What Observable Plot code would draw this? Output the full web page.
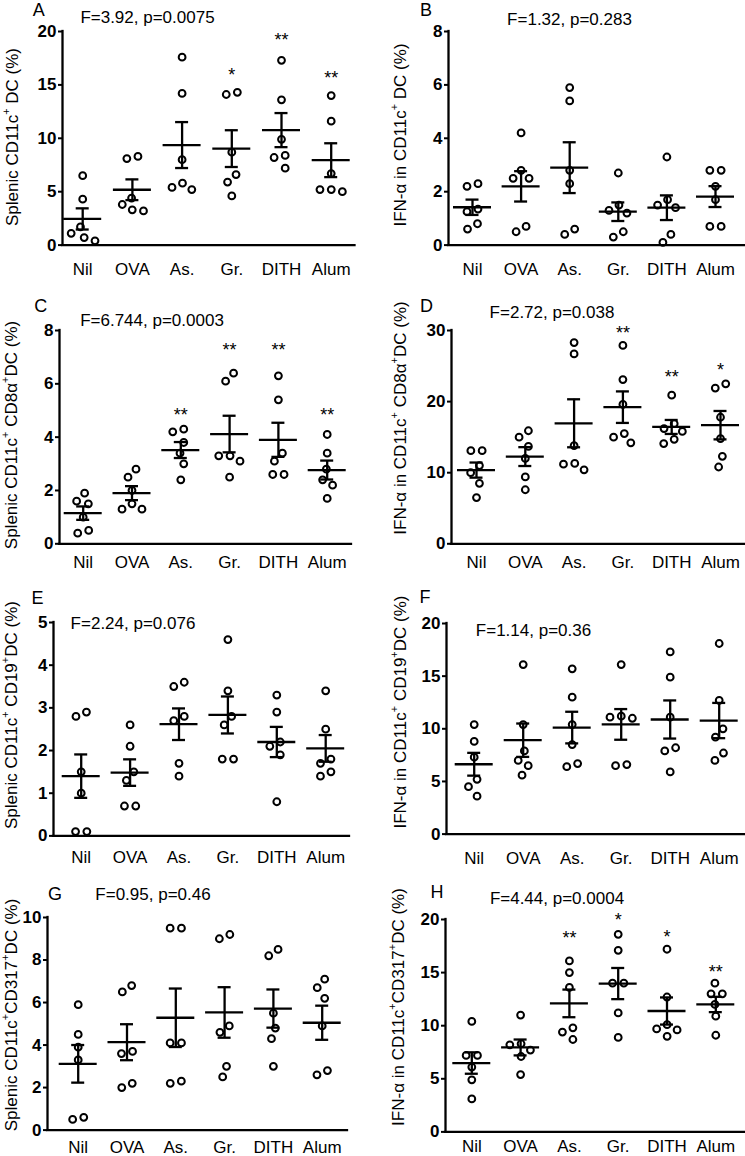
<!DOCTYPE html>
<html><head><meta charset="utf-8">
<script src="https://cdn.jsdelivr.net/npm/d3@7"></script>
<script src="https://cdn.jsdelivr.net/npm/@observablehq/plot@0.6"></script>
<style>
html,body{margin:0;padding:0;background:#fff;}
#fig{position:relative;width:745px;height:1156px;overflow:hidden;background:#fff;font-family:"Liberation Sans",Arial,sans-serif;}
</style></head><body><div id="fig"></div>
<script>
// ---------- DATA ----------
const groups = ["Nil","OVA","As.","Gr.","DITH","Alum"];

const valuesA = [[6.5,4.3,1.7,1.1,0.4,0.7],[8.1,8.3,4.4,3.8,3.2,3.3],[17.6,14.2,8.0,5.8,5.2,5.4],[14.3,14.1,8.7,6.6,5.9,4.6],[17.3,13.6,9.9,8.4,8.2,7.2],[14.0,11.6,6.7,5.2,5.0,5.2]];
const valuesB = [[2.2,2.3,1.35,1.25,0.6,0.8],[4.2,2.5,2.5,2.8,0.5,0.7],[5.9,5.4,2.8,2.3,0.4,0.6],[2.7,1.5,1.3,1.2,0.5,0.3],[3.3,1.5,1.7,1.4,0.4,0.1],[2.8,2.8,2.2,1.7,0.7,0.7]];
const valuesC = [[1.9,1.5,1.6,1.0,0.4,0.5],[2.8,2.5,2.0,1.5,1.3,1.3],[4.3,4.2,3.8,3.4,3.0,2.4],[6.4,6.1,3.3,3.3,3.1,2.5],[6.3,5.4,3.4,3.1,2.6,2.6],[4.1,3.4,2.8,2.4,2.2,1.7]];
const valuesD = [[13.1,13.1,11.0,10.0,8.5,6.5],[15.9,15.0,13.7,12.0,9.4,7.6],[28.3,26.7,13.8,11.3,11.2,10.4],[27.9,23.1,19.6,15.5,15.0,14.2],[20.9,16.2,16.9,15.8,14.1,14.7],[22.5,21.9,17.8,14.8,12.3,10.8]];
const valuesE = [[2.9,2.8,1.5,1.0,0.1,0.1],[2.6,2.1,1.5,1.3,0.7,0.7],[3.6,3.5,2.7,2.8,1.7,1.4],[4.6,3.4,2.8,2.6,1.8,1.8],[3.3,2.9,2.2,2.1,1.9,0.8],[3.4,2.5,1.8,1.7,1.4,1.5]];
const valuesF = [[10.4,8.8,7.3,5.2,4.5,3.6],[16.1,10.4,7.9,7.0,6.5,5.6],[15.7,13.0,10.4,8.5,6.4,6.7],[16.1,11.1,11.0,11.2,6.5,6.6],[17.3,14.9,11.1,8.2,7.9,5.9],[18.1,12.7,10.0,9.2,7.0,7.7]];
const valuesG = [[5.9,4.5,3.9,3.3,0.5,0.6],[6.5,6.8,3.7,3.6,2.0,2.2],[9.5,9.5,4.1,4.1,2.2,2.3],[9.0,9.2,4.9,4.6,2.5,3.0],[8.5,8.2,5.5,4.8,4.3,3.0],[7.1,6.7,6.2,4.9,2.6,2.8]];
const valuesH = [[10.4,7.2,7.2,6.1,4.9,3.1],[11.0,7.7,8.3,7.1,5.4,8.2],[16.1,15.0,13.6,9.8,9.4,8.7],[18.6,17.1,14.0,14.0,11.2,8.9],[17.2,12.7,10.1,9.7,9.0,9.6],[14.0,13.0,13.0,12.0,10.9,9.1]];

const ticksA = [0,5,10,15,20];
const ticksB = [0,2,4,6,8];
const ticksC = [0,2,4,6,8];
const ticksD = [0,10,20,30];
const ticksE = [0,1,2,3,4,5];
const ticksF = [0,5,10,15,20];
const ticksG = [0,2,4,6,8,10];
const ticksH = [0,5,10,15,20];

const starsA = [{group:"Gr.",mark:"*",level:16.3},{group:"DITH",mark:"**",level:19.6},{group:"Alum",mark:"**",level:16.0}];
const starsB = [];
const starsC = [{group:"As.",mark:"**",level:5.0},{group:"Gr.",mark:"**",level:7.44},{group:"DITH",mark:"**",level:7.44},{group:"Alum",mark:"**",level:5.0}];
const starsD = [{group:"Gr.",mark:"**",level:30.2},{group:"DITH",mark:"**",level:24.1},{group:"Alum",mark:"*",level:25.1}];
const starsE = [];
const starsF = [];
const starsG = [];
const starsH = [{group:"As.",mark:"**",level:18.7},{group:"Gr.",mark:"*",level:20.4},{group:"DITH",mark:"*",level:18.8},{group:"Alum",mark:"**",level:15.5}];

const statsA = "F=3.92, p=0.0075";
const statsB = "F=1.32, p=0.283";
const statsC = "F=6.744, p=0.0003";
const statsD = "F=2.72, p=0.038";
const statsE = "F=2.24, p=0.076";
const statsF = "F=1.14, p=0.36";
const statsG = "F=0.95, p=0.46";
const statsH = "F=4.44, p=0.0004";

// ^+^ marks a superscript
const ylabelA = "Splenic CD11c^+^ DC (%)";
const ylabelB = "IFN-α in CD11c^+^ DC (%)";
const ylabelC = "Splenic CD11c^+^ CD8α^+^DC (%)";
const ylabelD = "IFN-α in CD11c^+^ CD8α^+^DC (%)";
const ylabelE = "Splenic CD11c^+^ CD19^+^DC (%)";
const ylabelF = "IFN-α in CD11c^+^ CD19^+^DC (%)";
const ylabelG = "Splenic CD11c^+^CD317^+^DC (%)";
const ylabelH = "IFN-α in CD11c^+^CD317^+^DC (%)";

// ---------- LAYOUT ----------
const layout = {
  A:{x0:61.5,c0:81.7,s:49.7,x1:354,yTop:30.7,yBot:244.3,gap:29.7,letter:[38.7,16],stat:[147.5,23.3],ylab:[11.5,137]},
  B:{x0:448,c0:472,s:48.6,x1:744,yTop:30.7,yBot:244.3,gap:29.7,letter:[426,15.5],stat:[569.5,25],ylab:[400,135]},
  C:{x0:59,c0:82.7,s:48.8,x1:351,yTop:330,yBot:543.3,gap:24,letter:[40.8,312.3],stat:[152,325.7],ylab:[11,435]},
  D:{x0:451,c0:476,s:48.8,x1:752,yTop:330,yBot:543.3,gap:24,letter:[426.5,312.3],stat:[552,317.7],ylab:[400,418]},
  E:{x0:53,c0:80.7,s:48.9,x1:349,yTop:622.3,yBot:835.7,gap:27,letter:[37.5,604.3],stat:[133,629.3],ylab:[11,715]},
  F:{x0:446,c0:473.7,s:49,x1:752,yTop:622.7,yBot:833.3,gap:30,letter:[425,603.3],stat:[533.5,635.7],ylab:[400,712]},
  G:{x0:47,c0:77.7,s:48.8,x1:347,yTop:916.7,yBot:1129.3,gap:23,letter:[55,900],stat:[153,900],ylab:[11,1015]},
  H:{x0:445,c0:471.3,s:48.8,x1:752,yTop:919.3,yBot:1131.7,gap:20,letter:[437,898.3],stat:[557,904],ylab:[398,1007]}
};
const FONT = '"Liberation Sans", Arial, sans-serif';
const DOT_SPACING = 11.3;

// beeswarm-style spreading of points within a group (pixel offsets)
function spread(vals, pxU, d) {
  const idx = d3.range(vals.length).sort((a,b) => vals[b]-vals[a]);
  const placed = [], xs = new Array(vals.length);
  for (const i of idx) {
    const y = vals[i]*pxU;
    const cands = [0];
    for (const p of placed) {
      const dy = Math.abs(p.y - y);
      if (dy < d) { const dx = Math.sqrt(d*d - dy*dy); cands.push(p.x - dx, p.x + dx); }
    }
    const ok = cands.filter(c => placed.every(p => (c-p.x)**2 + (y-p.y)**2 >= d*d - 1e-6));
    ok.sort((a,b) => Math.abs(a)-Math.abs(b) || a-b);
    xs[i] = ok[0];
    placed.push({x: ok[0], y});
  }
  let cluster = [idx[0]];
  const flush = () => { if (cluster.length > 1) { const m = d3.mean(cluster, j => xs[j]); cluster.forEach(j => xs[j] -= m); } };
  for (let k = 1; k < idx.length; k++) {
    const a = idx[k-1], b = idx[k];
    if ((vals[a]-vals[b])*pxU < d) cluster.push(b); else { flush(); cluster = [b]; }
  }
  flush();
  return xs;
}

const fig = document.getElementById("fig");

function panel(key, values, ticks, stars) {
  const L = layout[key];
  const ymax = ticks[ticks.length-1];
  const pxU = (L.yBot - L.yTop)/ymax;
  const dom = [(L.x0 - L.c0)/L.s, (L.x1 - L.c0)/L.s];
  const pts = [], summ = [];
  values.forEach((vals, gi) => {
    const offs = spread(vals, pxU, DOT_SPACING);
    vals.forEach((v, k) => pts.push({g: gi, v, x: gi + offs[k]/L.s}));
    const m = d3.mean(vals), se = d3.deviation(vals)/Math.sqrt(vals.length);
    summ.push({g: gi, mean: m, lo: m - se, hi: m + se});
  });
  const hw = 19/L.s, cw = 6.5/L.s;
  const ML = 50, MR = 12, MT = 45, MB = 40;
  const chart = Plot.plot({
    width: ML + (L.x1 - L.x0) + MR,
    height: MT + (L.yBot - L.yTop) + MB,
    marginLeft: ML, marginRight: MR, marginTop: MT, marginBottom: MB,
    style: {background: "transparent", fontFamily: FONT, color: "black", overflow: "visible"},
    x: {domain: dom},
    y: {domain: [0, ymax]},
    marks: [
      Plot.axisY({ticks, tickSize: 4, tickPadding: 2, fontSize: 17, fontWeight: "bold", strokeWidth: 2, label: null, tickFormat: d => String(d)}),
      Plot.axisX({ticks: d3.range(groups.length), tickFormat: i => groups[i], tickSize: 0, tickPadding: L.gap - 12, fontSize: 17, label: null}),
      Plot.ruleX([dom[0]], {strokeWidth: 2.3, strokeLinecap: "square"}),
      Plot.ruleY([0], {strokeWidth: 2.3, strokeLinecap: "square"}),
      Plot.dot(pts, {x: "x", y: "v", r: 3.4, stroke: "black", strokeWidth: 2, fill: "none"}),
      Plot.ruleY(summ, {y: "mean", x1: d => d.g - hw, x2: d => d.g + hw, strokeWidth: 2.3}),
      Plot.ruleX(summ, {x: "g", y1: "lo", y2: "hi", strokeWidth: 2.3}),
      Plot.ruleY(summ, {y: "hi", x1: d => d.g - cw, x2: d => d.g + cw, strokeWidth: 2.3}),
      Plot.ruleY(summ, {y: "lo", x1: d => d.g - cw, x2: d => d.g + cw, strokeWidth: 2.3}),
      Plot.text(stars, {x: d => groups.indexOf(d.group), y: "level", text: "mark", fontSize: 18, dy: 4.5})
    ]
  });
  chart.style.position = "absolute";
  chart.style.left = (L.x0 - ML) + "px";
  chart.style.top = (L.yTop - MT) + "px";
  chart.style.maxWidth = "none";
  fig.appendChild(chart);
}

panel("A", valuesA, ticksA, starsA);
panel("B", valuesB, ticksB, starsB);
panel("C", valuesC, ticksC, starsC);
panel("D", valuesD, ticksD, starsD);
panel("E", valuesE, ticksE, starsE);
panel("F", valuesF, ticksF, starsF);
panel("G", valuesG, ticksG, starsG);
panel("H", valuesH, ticksH, starsH);

// ---------- TEXT OVERLAY ----------
const ov = d3.select(fig).append("svg")
  .attr("width", 745).attr("height", 1156)
  .style("position", "absolute").style("left", "0px").style("top", "0px")
  .style("font-family", FONT);

const texts = {A:[statsA,ylabelA],B:[statsB,ylabelB],C:[statsC,ylabelC],D:[statsD,ylabelD],E:[statsE,ylabelE],F:[statsF,ylabelF],G:[statsG,ylabelG],H:[statsH,ylabelH]};
for (const key of Object.keys(texts)) {
  const L = layout[key];
  const [stat, ylab] = texts[key];
  ov.append("text").attr("x", L.letter[0]).attr("y", L.letter[1]).attr("text-anchor", "middle")
    .attr("font-size", 18).text(key);
  ov.append("text").attr("x", L.stat[0]).attr("y", L.stat[1]).attr("text-anchor", "middle")
    .attr("font-size", 17).text(stat);
  const t = ov.append("text")
    .attr("transform", `translate(${L.ylab[0]},${L.ylab[1]}) rotate(-90)`)
    .attr("text-anchor", "middle").attr("dominant-baseline", "central").attr("font-size", 17);
  ylab.split("^").forEach((part, i) => {
    if (!part) return;
    const sp = t.append("tspan").text(part);
    if (i % 2 === 1) sp.attr("baseline-shift", "super").attr("font-size", 11);
  });
}
</script></body></html>
